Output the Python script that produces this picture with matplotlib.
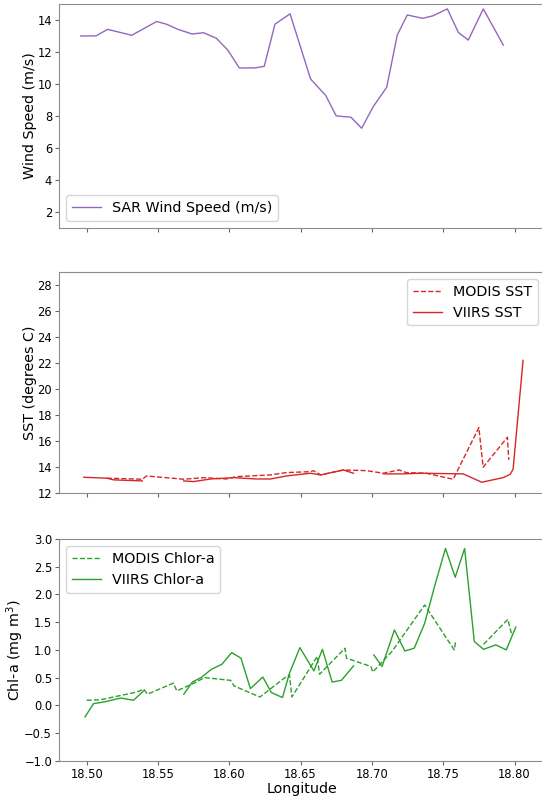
import numpy as np
import matplotlib
matplotlib.use('Agg')
from matplotlib import pyplot as plt

nan = np.nan

# SAR wind speed
wind_lon = [18.4958, 18.5065, 18.5147, 18.5316, 18.549, 18.556, 18.564, 18.574, 18.582,
            18.591, 18.599, 18.607, 18.618, 18.6245, 18.632, 18.6426, 18.657, 18.6676,
            18.675, 18.6853, 18.6928, 18.701, 18.7104, 18.7178, 18.7248, 18.7356, 18.7426,
            18.7529, 18.7606, 18.7676, 18.7781, 18.7921]
wind_speed = [13.0, 13.0, 13.41, 13.04, 13.9, 13.73, 13.41, 13.12, 13.2,
              12.85, 12.11, 11.0, 11.0, 11.1, 13.73, 14.38, 10.31, 9.28,
              8.0, 7.92, 7.23, 8.59, 9.8, 13.06, 14.31, 14.1, 14.25,
              14.69, 13.22, 12.74, 14.69, 12.43]

# SST
viirs_sst_lon = [18.498, 18.514, 18.519, 18.539, 18.553, 18.568, 18.575, 18.587, 18.603,
                 18.619, 18.629, 18.640, 18.657, 18.664, 18.680, 18.687, 18.697, 18.708,
                 18.722, 18.734, 18.764, 18.777, 18.792, 18.797, 18.799, 18.806]
viirs_sst = [13.23, 13.16, 13.03, 12.95, nan, 12.95, 12.9, 13.1, 13.2,
             13.1, 13.1, 13.33, 13.54, 13.41, 13.79, 13.54, nan, 13.49,
             13.49, 13.54, 13.49, 12.85, 13.2, 13.46, 13.85, 22.2]
modis_sst_lon = [18.514, 18.539, 18.542, 18.568, 18.582, 18.598, 18.605, 18.629, 18.640,
                 18.657, 18.659, 18.664, 18.680, 18.696, 18.708, 18.719, 18.724, 18.738,
                 18.757, 18.775, 18.778, 18.795, 18.796]
modis_sst = [13.16, 13.08, 13.33, 13.08, 13.2, 13.1, 13.28, 13.41, 13.59,
             13.66, 13.74, 13.41, 13.79, 13.74, 13.54, 13.79, 13.59, 13.54,
             13.08, 17.04, 14.0, 16.3, 14.56]

# Chlorophyll-a
viirs_chl_lon = [18.4988, 18.5048, 18.5121, 18.5219, 18.5243, 18.5328, 18.5399, 18.5544,
                 18.5681, 18.5741, 18.5802, 18.5875, 18.5948, 18.6017, 18.6082, 18.6148,
                 18.6235, 18.6295, 18.6373, 18.6422, 18.6495, 18.6593, 18.6653, 18.6721,
                 18.6786, 18.6871, 18.695, 18.7013, 18.7071, 18.7158, 18.7231, 18.7297,
                 18.7370, 18.7442, 18.7516, 18.7584, 18.765, 18.7718, 18.7783, 18.7869,
                 18.7942, 18.8009]
viirs_chl = [-0.21, 0.03, 0.06, 0.12, 0.13, 0.09, 0.26, nan,
             0.20, 0.42, 0.50, 0.65, 0.74, 0.95, 0.85, 0.30,
             0.51, 0.23, 0.14, 0.58, 1.04, 0.62, 1.01, 0.42,
             0.45, 0.71, nan, 0.91, 0.70, 1.36, 0.98, 1.03,
             1.48, 2.17, 2.83, 2.31, 2.83, 1.15, 1.01, 1.09,
             1.0, 1.41]
modis_chl_lon = [18.4999, 18.5097, 18.5353, 18.5401, 18.5426, 18.5608, 18.5632, 18.5753,
                 18.5826, 18.6009, 18.6033, 18.6215, 18.6386, 18.6422, 18.6439, 18.6616,
                 18.6633, 18.6811, 18.6822, 18.6993, 18.7006, 18.7140, 18.7370, 18.7577,
                 18.7589, 18.768, 18.7783, 18.7953, 18.7978]
modis_chl = [0.09, 0.10, 0.24, 0.29, 0.20, 0.40, 0.26, 0.40,
             0.50, 0.45, 0.35, 0.15, 0.49, 0.55, 0.15, 0.88,
             0.56, 1.03, 0.85, 0.70, 0.60, 0.97, 1.81, 1.0,
             1.17, nan, 1.10, 1.55, 1.30]

fig = plt.figure(figsize=(5.42, 7.99), dpi=100)

left, width = 0.1089, 0.8967
ax1 = fig.add_axes([left, 0.7147, width, 0.2804])
ax2 = fig.add_axes([left, 0.3826, width, 0.2773], sharex=ax1)
ax3 = fig.add_axes([left, 0.0479, width, 0.2775], sharex=ax1)

lab_size = 10.3
tick_size = 8.3

ax1.plot(wind_lon, wind_speed, color='#9467bd', lw=1.0, label='SAR Wind Speed (m/s)')
ax1.set_ylim(1, 15)
ax1.set_yticks(range(2, 15, 2))
ax1.set_ylabel('Wind Speed (m/s)', fontsize=lab_size)
ax1.legend(loc='lower left', fontsize=lab_size)

ax2.plot(modis_sst_lon, modis_sst, color='#d62728', lw=1.0, ls='--', label='MODIS SST')
ax2.plot(viirs_sst_lon, viirs_sst, color='#d62728', lw=1.0, label='VIIRS SST')
ax2.set_ylim(12, 29)
ax2.set_yticks(range(12, 29, 2))
ax2.set_ylabel('SST (degrees C)', fontsize=lab_size)
ax2.legend(loc='upper right', fontsize=lab_size)

ax3.plot(modis_chl_lon, modis_chl, color='#2ca02c', lw=1.0, ls='--', label='MODIS Chlor-a')
ax3.plot(viirs_chl_lon, viirs_chl, color='#2ca02c', lw=1.0, label='VIIRS Chlor-a')
ax3.set_ylim(-1, 3)
ax3.set_yticks(np.arange(-1, 3.01, 0.5))
ax3.set_ylabel('Chl-a (mg m$^3$)', fontsize=lab_size)
ax3.set_xlabel('Longitude', fontsize=lab_size, labelpad=1)
ax3.legend(loc='upper left', fontsize=lab_size)

ax1.set_xlim(18.4806, 18.8214)
ax1.set_xticks([18.50, 18.55, 18.60, 18.65, 18.70, 18.75, 18.80])
ax3.xaxis.set_major_formatter(matplotlib.ticker.FormatStrFormatter('%.2f'))

for ax in (ax1, ax2, ax3):
    ax.tick_params(labelsize=tick_size, length=3, pad=2, color='0.4')
    for s in ax.spines.values():
        s.set_color('0.55')
for ax in (ax1, ax2):
    ax.tick_params(labelbottom=False)

# ylabel positions as in the reference
ax1.yaxis.set_label_coords(-0.045, 0.5)
ax2.yaxis.set_label_coords(-0.045, 0.5)
ax3.yaxis.set_label_coords(-0.067, 0.5)

fig.savefig('out.png', dpi=100)
